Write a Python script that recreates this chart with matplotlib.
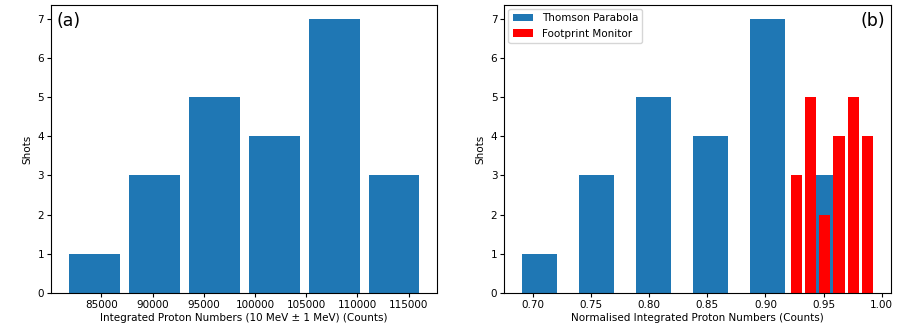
import numpy as np
import matplotlib
matplotlib.use("Agg")
import matplotlib.pyplot as plt

# --- Histogram data (bin edges and counts per bin) ---
# (a) integrated proton numbers, Thomson parabola
raw_edges = [81372, 87225, 93078, 98931, 104784, 110637, 116490]
raw_counts = [1, 3, 5, 4, 7, 3]

# (b) normalised integrated proton numbers
tp_edges = [0.6812, 0.7302, 0.7792, 0.8282, 0.8772, 0.9262, 0.9752]
tp_counts = [1, 3, 5, 4, 7, 3]

fm_edges = [0.9204, 0.9326, 0.9449, 0.9571, 0.9694, 0.9816, 0.9938]
fm_counts = [3, 5, 2, 4, 5, 4]

BLUE = "#1f77b4"
RED = "#ff0000"
FONT = 7.5


def draw_hist(ax, edges, counts, rwidth, color, label=None):
    """Bars centred in each bin, narrowed by rwidth like plt.hist does."""
    edges = np.asarray(edges, dtype=float)
    centers = (edges[:-1] + edges[1:]) / 2
    widths = np.diff(edges) * rwidth
    return ax.bar(centers, counts, width=widths, color=color, label=label,
                  edgecolor="none", linewidth=0)


fig = plt.figure(figsize=(9.0, 3.31), dpi=100)
ax_a = fig.add_axes([0.0567, 0.115, 0.4289, 0.870])
ax_b = fig.add_axes([0.5603, 0.115, 0.4294, 0.870])

# panel (a)
draw_hist(ax_a, raw_edges, raw_counts, 0.85, BLUE)
ax_a.set_xticks(np.arange(85000, 115001, 5000))
ax_a.set_ylabel("Shots", fontsize=FONT)
ax_a.set_xlabel("Integrated Proton Numbers (10 MeV \u00b1 1 MeV) (Counts)", fontsize=FONT, labelpad=2)
ax_a.text(0.015, 0.975, "(a)", transform=ax_a.transAxes, fontsize=12.5, va="top", ha="left")

# panel (b)
draw_hist(ax_b, tp_edges, tp_counts, 0.61, BLUE, label="Thomson Parabola")
draw_hist(ax_b, fm_edges, fm_counts, 0.80, RED, label="Footprint Monitor")
ax_b.set_xticks(np.arange(0.70, 1.001, 0.05))
ax_b.set_ylabel("Shots", fontsize=FONT)
ax_b.set_xlabel("Normalised Integrated Proton Numbers (Counts)", fontsize=FONT, labelpad=2)
ax_b.text(0.985, 0.975, "(b)", transform=ax_b.transAxes, fontsize=12.5, va="top", ha="right")
ax_b.legend(loc="upper left", fontsize=FONT, handlelength=2.0, borderaxespad=0.4)

for ax in (ax_a, ax_b):
    ax.set_ylim(0, 7.35)
    ax.set_yticks(range(0, 8))
    ax.tick_params(labelsize=FONT, length=3, pad=2)

fig.savefig("out.png", dpi=100)
